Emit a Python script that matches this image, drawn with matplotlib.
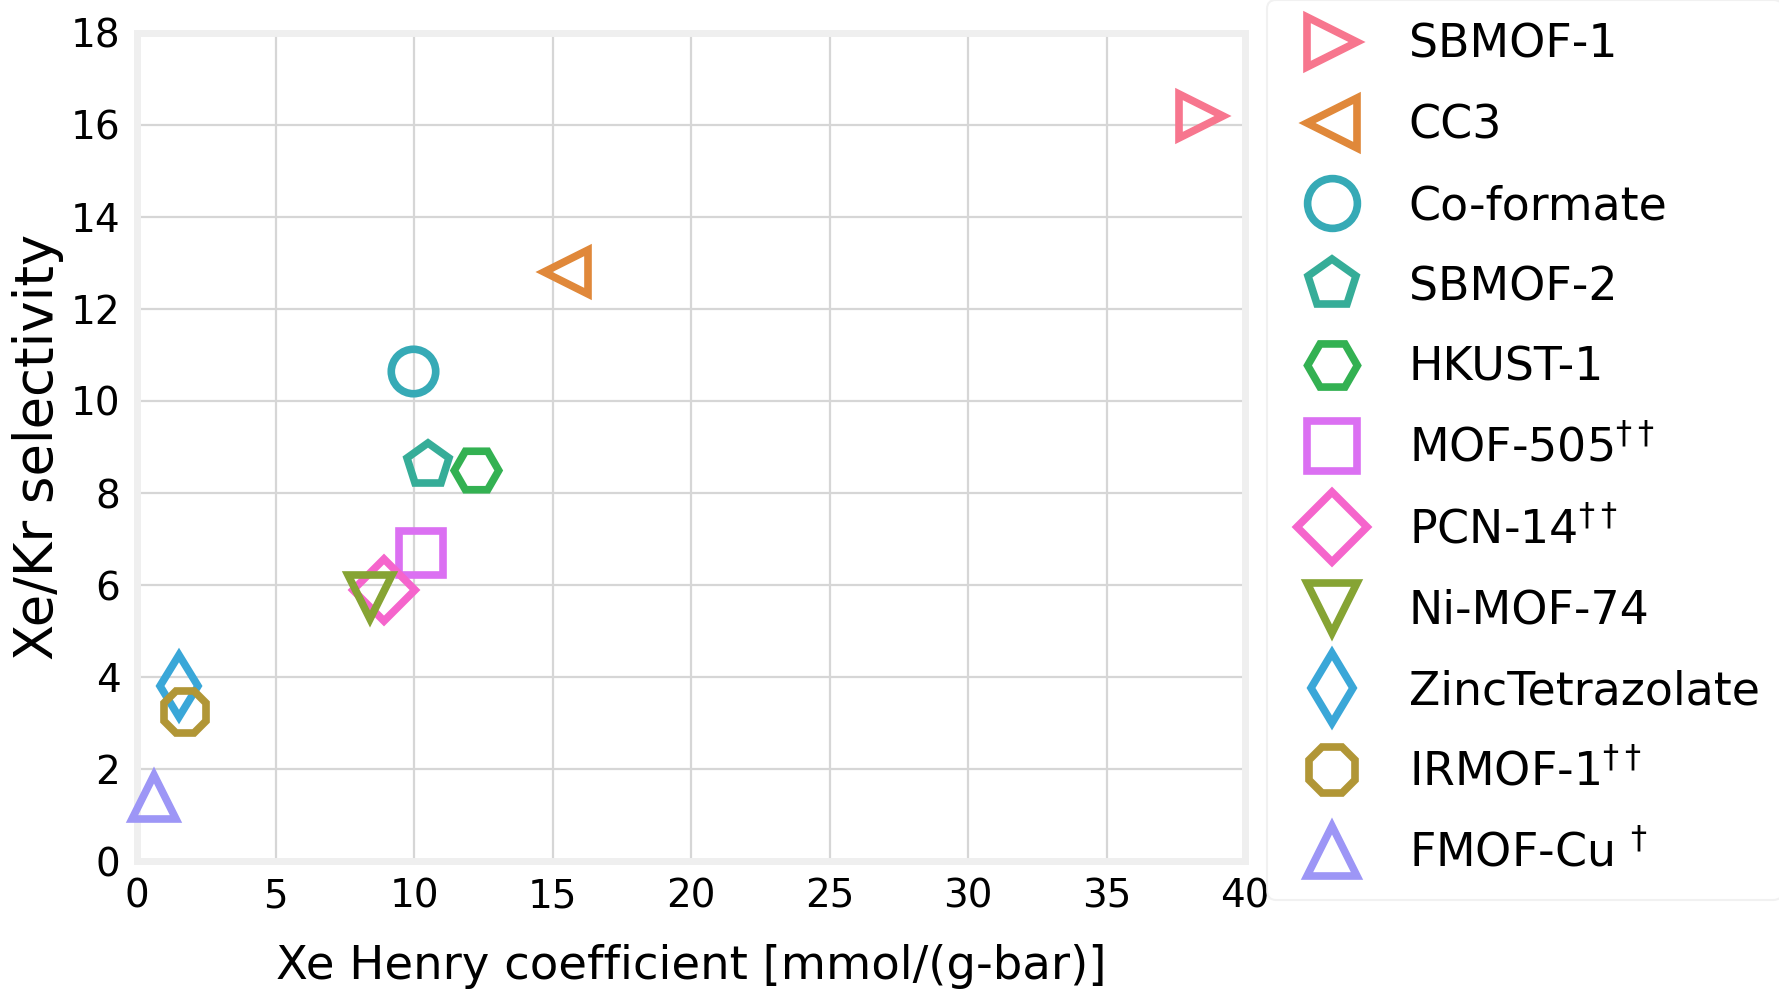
import numpy as np
import matplotlib
matplotlib.use('Agg')
import matplotlib.pyplot as plt

# materials, Xe Henry coefficient [mmol/(g-bar)] and Xe/Kr selectivity
names = ['SBMOF-1', 'CC3', 'Co-formate', 'SBMOF-2', 'HKUST-1',
         r'MOF-505$^{\dagger\dagger}$', r'PCN-14$^{\dagger\dagger}$', 'Ni-MOF-74',
         'ZincTetrazolate', r'IRMOF-1$^{\dagger\dagger}$', r'FMOF-Cu $^{\dagger}$']
henry = [38.4, 15.5, 9.95, 10.5, 12.25, 10.25, 8.9, 8.4, 1.5, 1.75, 0.6]
selectivity = [16.2, 12.8, 10.65, 8.6, 8.5, 6.7, 5.9, 5.75, 3.8, 3.25, 1.4]
markers = ['>', '<', 'o', 'p', 'H', 's', 'D', 'v', 'd', '8', '^']
colors = ['#f7768e', '#e0883a', '#36aab6', '#36ad98', '#33b152', '#db70f2',
          '#f565cc', '#86a434', '#3aa7d8', '#b19636', '#9d96f6']

plt.rcParams['font.family'] = ['DejaVu Sans']
plt.rcParams['mathtext.fontset'] = 'dejavusans'

fig = plt.figure(figsize=(17.79, 9.9), dpi=100)
ax = fig.add_axes([0.077, 0.130, 0.623, 0.837])

for x, y, m, c, n in zip(henry, selectivity, markers, colors, names):
    ax.plot(x, y, linestyle='none', marker=m, markersize=32,
            markerfacecolor='none', markeredgecolor=c, markeredgewidth=5.5,
            label=n, clip_on=False, zorder=3)

ax.set_xlim(0, 40)
ax.set_ylim(0, 18)
ax.set_xticks(np.arange(0, 41, 5))
ax.set_yticks(np.arange(0, 19, 2))
ax.grid(True, color='#d6d6d6', linewidth=1.6)
ax.set_axisbelow(True)
for s in ax.spines.values():
    s.set_color('#efefef')
    s.set_linewidth(5)
ax.tick_params(length=0, labelsize=28, pad=12)

ax.set_xlabel('Xe Henry coefficient [mmol/(g-bar)]', fontsize=33.5, labelpad=20)
ax.set_ylabel('Xe/Kr selectivity', fontsize=38, labelpad=5)

leg = fig.legend(loc='upper left', bbox_to_anchor=(0.712, 1.0),
                 fontsize=33, frameon=True, numpoints=1, markerscale=1.12,
                 borderpad=0.5, handlelength=1.85, handletextpad=0.75,
                 labelspacing=0.78, borderaxespad=0)
leg.get_frame().set_edgecolor('#eeeeee')
leg.get_frame().set_linewidth(1.5)

fig.savefig('out.png', dpi=100)
